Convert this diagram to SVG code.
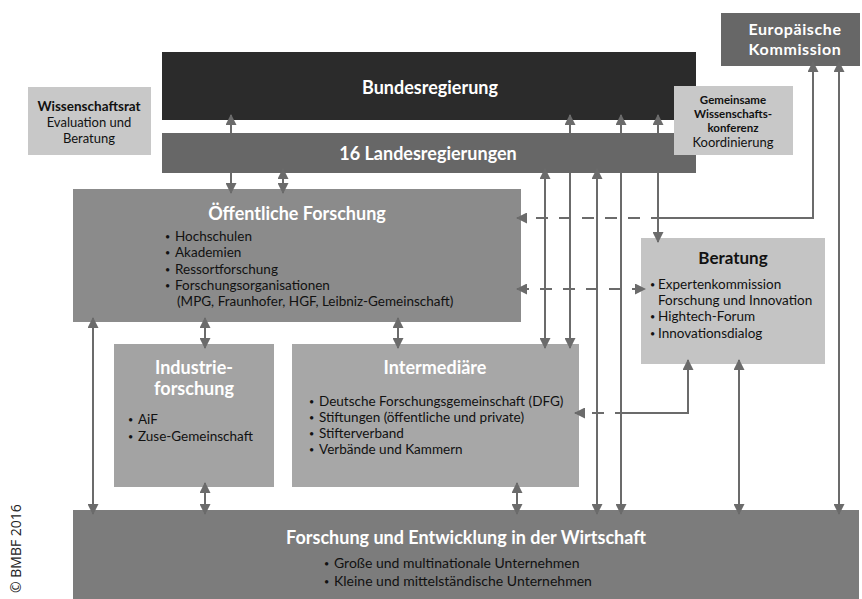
<svg xmlns="http://www.w3.org/2000/svg" width="862" height="599" viewBox="0 0 862 599">
<style>
  text { font-family: Lato, "Noto Sans", sans-serif; }
  .h { font-weight: bold; font-size: 18px; fill: #ffffff; text-anchor: middle; }
  .hb { font-weight: bold; font-size: 17px; fill: #111111; text-anchor: middle; }
  .t { font-size: 13.5px; fill: #111111; }
  .b { font-size: 9px; fill: #111111; }
  .tc { font-size: 13px; fill: #111111; text-anchor: middle; }
  .tb { font-size: 13px; font-weight: bold; fill: #111111; text-anchor: middle; }
  .ln { fill: none; stroke: #6b6b6b; stroke-width: 2; }
  .dbl { marker-start: url(#ah); marker-end: url(#ah); }
  .dash { stroke-dasharray: 12 11; }
</style>
<defs>
  <marker id="ah" markerUnits="userSpaceOnUse" markerWidth="11" markerHeight="11" refX="10" refY="5.5" orient="auto-start-reverse">
    <path d="M0,0 L11,5.5 L0,11 z" fill="#6b6b6b"/>
  </marker>
</defs>
<rect width="862" height="599" fill="#ffffff"/>

<g id="bundesregierung">
  <rect x="162" y="52" width="534" height="68" fill="#2b2b2b"/>
  <text class="h" x="430" y="94">Bundesregierung</text>
</g>
<g id="landesregierungen">
  <rect x="162" y="133" width="534" height="40" fill="#676767"/>
  <text class="h" x="428" y="160">16 Landesregierungen</text>
</g>
<g id="wissenschaftsrat">
  <rect x="28" y="87" width="123" height="68" fill="#c8c8c8"/>
  <text class="tb" x="89" y="111" style="font-size:13.5px">Wissenschaftsrat</text>
  <text class="tc" x="89" y="127">Evaluation und</text>
  <text class="tc" x="89" y="143">Beratung</text>
</g>
<g id="gwk">
  <rect x="674" y="86" width="119" height="69" fill="#c8c8c8"/>
  <text class="tb" x="733" y="104" style="font-size:11.5px">Gemeinsame</text>
  <text class="tb" x="733" y="118" style="font-size:11.5px">Wissenschafts-</text>
  <text class="tb" x="733" y="132" style="font-size:11.5px">konferenz</text>
  <text class="tc" x="733" y="147">Koordinierung</text>
</g>
<g id="eu">
  <rect x="721" y="13" width="139" height="53" fill="#676767"/>
  <text class="h" x="795" y="35" style="font-size:16px;letter-spacing:0.6px">Europäische</text>
  <text class="h" x="795" y="54.5" style="font-size:16px;letter-spacing:0.6px">Kommission</text>
</g>
<g id="oeffentliche-forschung">
  <rect x="73" y="189" width="448" height="133" fill="#8b8b8b"/>
  <text class="h" x="297" y="220">Öffentliche Forschung</text>
  <text class="b" x="165" y="240">•</text><text class="t" x="175" y="241">Hochschulen</text>
  <text class="b" x="165" y="256">•</text><text class="t" x="175" y="257">Akademien</text>
  <text class="b" x="165" y="273">•</text><text class="t" x="175" y="274">Ressortforschung</text>
  <text class="b" x="165" y="289">•</text><text class="t" x="175" y="290">Forschungsorganisationen</text>
  <text class="t" x="177" y="306">(MPG, Fraunhofer, HGF, Leibniz-Gemeinschaft)</text>
</g>
<g id="industrieforschung">
  <rect x="114" y="344" width="160" height="143" fill="#a3a3a3"/>
  <text class="h" x="194" y="374">Industrie-</text>
  <text class="h" x="194" y="395">forschung</text>
  <text class="b" x="128" y="423">•</text><text class="t" x="138" y="424">AiF</text>
  <text class="b" x="128" y="440">•</text><text class="t" x="138" y="441">Zuse-Gemeinschaft</text>
</g>
<g id="intermediaere">
  <rect x="292" y="344" width="287" height="143" fill="#a7a7a7"/>
  <text class="h" x="435" y="374">Intermediäre</text>
  <text class="b" x="309" y="405">•</text><text class="t" x="319" y="406">Deutsche Forschungsgemeinschaft (DFG)</text>
  <text class="b" x="309" y="421">•</text><text class="t" x="319" y="422">Stiftungen (öffentliche und private)</text>
  <text class="b" x="309" y="437">•</text><text class="t" x="319" y="438">Stifterverband</text>
  <text class="b" x="309" y="453">•</text><text class="t" x="319" y="454">Verbände und Kammern</text>
</g>
<g id="beratung">
  <rect x="641" y="238" width="184" height="126" fill="#c4c4c4"/>
  <text class="hb" x="733" y="264">Beratung</text>
  <text class="b" x="650" y="288">•</text><text class="t" x="658" y="289">Expertenkommission</text>
  <text class="t" x="658" y="305">Forschung und Innovation</text>
  <text class="b" x="650" y="320">•</text><text class="t" x="658" y="321">Hightech-Forum</text>
  <text class="b" x="650" y="337">•</text><text class="t" x="658" y="338">Innovationsdialog</text>
</g>
<g id="fue-wirtschaft">
  <rect x="73" y="510" width="786" height="89" fill="#7c7c7c"/>
  <text class="h" x="466" y="544">Forschung und Entwicklung in der Wirtschaft</text>
  <text class="b" x="324" y="567">•</text><text class="t" x="334" y="568" style="font-size:14px">Große und multinationale Unternehmen</text>
  <text class="b" x="324" y="585">•</text><text class="t" x="334" y="586" style="font-size:14px">Kleine und mittelständische Unternehmen</text>
</g>
<g id="copyright">
  <text x="21" y="593" transform="rotate(-90 21 593)" style="font-family:'Open Sans','Noto Sans',sans-serif;font-size:14px;fill:#222222">© BMBF 2016</text>
</g>

<g id="connectors">
  <path class="ln dbl" d="M231,115 L231,133 M231,173 L231,193"/>
  <path class="ln dbl" d="M283,169 L283,193"/>
  <path class="ln dbl" d="M545,169 L545,348"/>
  <path class="ln dbl" d="M570,115 L570,133 M570,173 L570,348"/>
  <path class="ln dbl" d="M597,169 L597,514"/>
  <path class="ln dbl" d="M621,115 L621,133 M621,173 L621,514"/>
  <path class="ln dbl" d="M658,115 L658,133 M658,173 L658,242"/>
  <path class="ln" d="M813,62 L813,218 L663,218" marker-start="url(#ah)"/>
  <path class="ln dash" d="M663,218 L517,218" marker-end="url(#ah)"/>
  <path class="ln dbl" d="M839,62 L839,514"/>
  <path class="ln dbl dash" d="M517,289 L645,289"/>
  <path class="ln" d="M688,360 L688,413 L627,413" marker-start="url(#ah)"/>
  <path class="ln dash" d="M627,413 L575,413" marker-end="url(#ah)"/>
  <path class="ln dbl" d="M739,360 L739,514"/>
  <path class="ln dbl" d="M93,318 L93,514"/>
  <path class="ln dbl" d="M205,318 L205,348"/>
  <path class="ln dbl" d="M398,318 L398,348"/>
  <path class="ln dbl" d="M205,483 L205,514"/>
  <path class="ln dbl" d="M517,483 L517,514"/>
</g>
</svg>
